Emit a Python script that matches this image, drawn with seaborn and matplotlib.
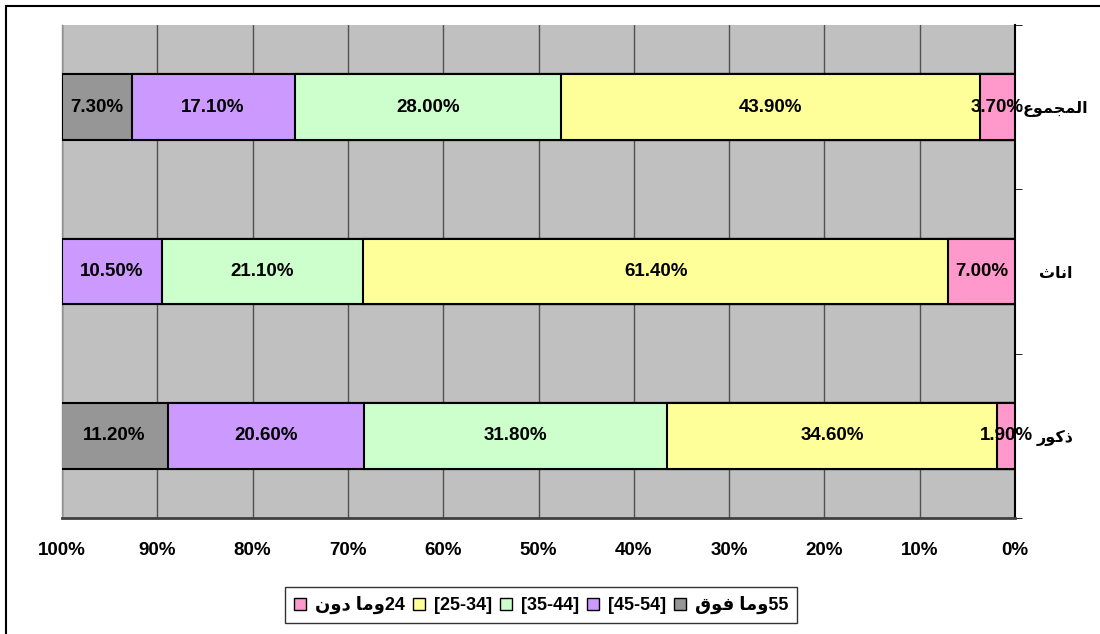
import matplotlib
matplotlib.use("Agg")
import matplotlib.pyplot as plt
from matplotlib.patches import Rectangle
from matplotlib.ticker import FixedLocator
import numpy as np
import pandas as pd
import seaborn as sns

# donnees (en %), segments de droite (0%) vers la gauche (100%)
categories = ["المجموع", "اناث", "ذكور"]
age_groups = ["24", "[25-34]", "[35-44]", "[45-54]", "55"]
v_24 = [3.7, 7.0, 1.9]
v_25_34 = [43.9, 61.4, 34.6]
v_35_44 = [28.0, 21.1, 31.8]
v_45_54 = [17.1, 10.5, 20.6]
v_55 = [7.3, 0.0, 11.2]
colors = ["#FF99CC", "#FFFF99", "#CCFFCC", "#CC99FF", "#969696"]

# formes de presentation arabes (isolee, finale, initiale, mediane)
FORMS = {
    "ا": ("\uFE8D", "\uFE8E", None, None),
    "و": ("\uFEED", "\uFEEE", None, None),
    "ذ": ("\uFEAB", "\uFEAC", None, None),
    "ر": ("\uFEAD", "\uFEAE", None, None),
    "د": ("\uFEA9", "\uFEAA", None, None),
    "ل": ("\uFEDD", "\uFEDE", "\uFEDF", "\uFEE0"),
    "م": ("\uFEE1", "\uFEE2", "\uFEE3", "\uFEE4"),
    "ج": ("\uFE9D", "\uFE9E", "\uFE9F", "\uFEA0"),
    "ع": ("\uFEC9", "\uFECA", "\uFECB", "\uFECC"),
    "ن": ("\uFEE5", "\uFEE6", "\uFEE7", "\uFEE8"),
    "ث": ("\uFE99", "\uFE9A", "\uFE9B", "\uFE9C"),
    "ك": ("\uFED9", "\uFEDA", "\uFEDB", "\uFEDC"),
    "ف": ("\uFED1", "\uFED2", "\uFED3", "\uFED4"),
    "ق": ("\uFED5", "\uFED6", "\uFED7", "\uFED8"),
}


def ar(s):
    # mise en forme + ordre visuel (droite a gauche)
    dual = [c for c, f in FORMS.items() if f[2] is not None]
    out = []
    for i, c in enumerate(s):
        if c not in FORMS:
            out.append(c)
            continue
        prev = s[i - 1] if i > 0 else None
        nxt = s[i + 1] if i + 1 < len(s) else None
        jp = prev in dual
        jn = c in dual and nxt in FORMS
        isol, fin, ini, med = FORMS[c]
        if jp and jn:
            out.append(med)
        elif jp:
            out.append(fin)
        elif jn:
            out.append(ini)
        else:
            out.append(isol)
    return "".join(out[::-1])


cat_labels = [ar(c) for c in categories]
legend_labels = [ar("وما دون") + age_groups[0]] + age_groups[1:4] + [ar("وما فوق") + age_groups[4]]

series = [v_24, v_25_34, v_35_44, v_45_54, v_55]
cum = np.cumsum(np.array(series), axis=0)

sns.set_style("white")
plt.rcParams["font.family"] = ["Liberation Sans", "DejaVu Sans"]
plt.rcParams["font.weight"] = "bold"
plt.rcParams["text.color"] = "black"
plt.rcParams["xtick.color"] = "black"
plt.rcParams["ytick.color"] = "black"

fig = plt.figure(figsize=(11, 6.34), dpi=100)
ax = fig.add_axes([62 / 1100, 1 - 518 / 634, (1015 - 62) / 1100, (518 - 25) / 634])
ax.set_facecolor("#C0C0C0")

# barres empilees : on trace les cumuls du plus grand au plus petit
for k in range(len(series) - 1, -1, -1):
    df = pd.DataFrame({"cat": cat_labels, "val": cum[k]})
    sns.barplot(data=df, x="val", y="cat", orient="h", order=cat_labels,
                color=colors[k], saturation=1, width=0.4,
                edgecolor="black", linewidth=1.5, ax=ax, zorder=3)

# etiquettes de valeurs
for k, vals in enumerate(series):
    for i, v in enumerate(vals):
        if v <= 0:
            continue
        ax.text(cum[k][i] - v / 2, i, f"{v:.2f}%", ha="center", va="center",
                fontsize=13.5, fontweight="bold", color="black", zorder=5)

ax.set_xlim(100, 0)
ax.set_ylim(2.5, -0.5)
ax.set_xticks(np.arange(0, 101, 10))
ax.set_xticklabels([f"{t}%" for t in range(0, 101, 10)], fontsize=13.5, fontweight="bold")
ax.xaxis.grid(True, color="#505050", linewidth=1)
ax.set_axisbelow(True)
ax.tick_params(axis="x", direction="out", length=6, color="#404040", labelcolor="black", pad=11)

ax.yaxis.tick_right()
ax.tick_params(axis="y", which="major", length=0, pad=29, labelcolor="black")
ax.set_yticklabels(cat_labels, fontsize=11.5, fontweight="bold", ha="center")
ax.yaxis.set_minor_locator(FixedLocator([-0.5, 0.5, 1.5, 2.5]))
ax.tick_params(axis="y", which="minor", right=True, direction="out", length=5, color="black")
ax.set_xlabel("")
ax.set_ylabel("")

ax.spines["top"].set_visible(False)
ax.spines["left"].set_color("#909090")
ax.spines["left"].set_linewidth(1)
ax.spines["bottom"].set_color("#404040")
ax.spines["bottom"].set_linewidth(2)
ax.spines["right"].set_color("black")
ax.spines["right"].set_linewidth(1.5)

# legende
handles = [Rectangle((0, 0), 1, 1, facecolor=c, edgecolor="black", linewidth=1) for c in colors]
leg = fig.legend(handles, legend_labels, loc="center", bbox_to_anchor=(541 / 1100, 1 - 605 / 634),
                 ncol=5, frameon=True, fancybox=False, edgecolor="black", fontsize=13,
                 handlelength=0.65, handleheight=0.65, handletextpad=0.5, columnspacing=0.45,
                 borderpad=0.5)
leg.get_frame().set_linewidth(1)
for t in leg.get_texts():
    t.set_fontweight("bold")
    t.set_color("black")

# cadre du graphique
fig.add_artist(Rectangle((6 / 1100, -0.01), 1.0, 1 - 6 / 634 + 0.01, transform=fig.transFigure,
                         fill=False, edgecolor="black", linewidth=1.5))

fig.savefig("out.png", dpi=100)
